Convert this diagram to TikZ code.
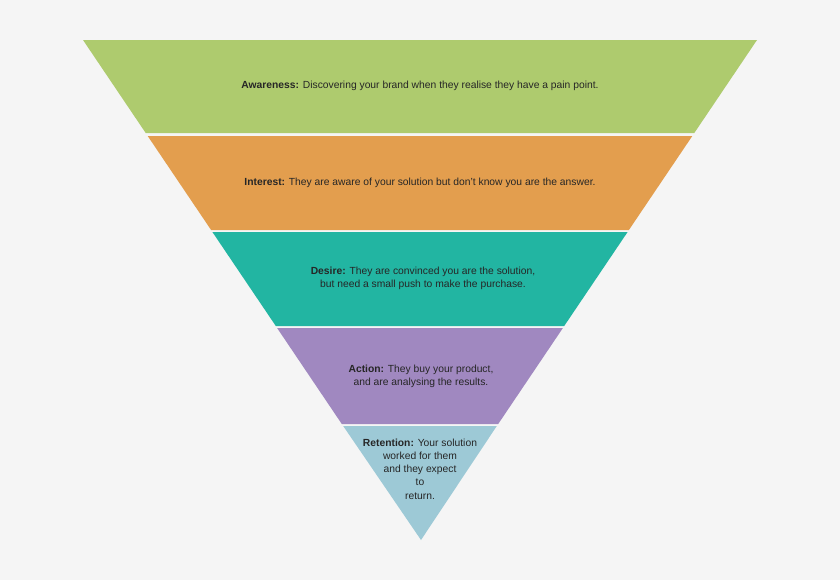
\documentclass[tikz,border=0pt]{standalone}
\usepackage{fontspec}
\setmainfont{Liberation Sans}
\usetikzlibrary{positioning}

\definecolor{awarecol}{HTML}{AECB6E}
\definecolor{interestcol}{HTML}{E39E4E}
\definecolor{desirecol}{HTML}{22B5A2}
\definecolor{actioncol}{HTML}{A088C0}
\definecolor{retaincol}{HTML}{9DC9D6}

\tikzset{
  layertext/.style={align=center,font=\fontsize{8.8}{11.3}\selectfont,text=black!85},
}

\begin{document}
\begin{tikzpicture}[x=0.03cm,y=-0.03cm]
\useasboundingbox[fill=black!4] (0,0) rectangle (840,580);
% funnel layers
\fill[awarecol]    (83,40)    -- (757,40)    -- (694.3,133) -- (145.7,133) -- cycle;
\fill[interestcol] (147.7,136) -- (692.3,136) -- (628.9,230) -- (211.1,230) -- cycle;
\fill[desirecol]   (212.4,232) -- (627.6,232) -- (564.2,326) -- (275.8,326) -- cycle;
\fill[actioncol]   (277.1,328) -- (562.9,328) -- (498.2,424) -- (341.8,424) -- cycle;
\fill[retaincol]   (343.2,426) -- (496.8,426) -- (421,540) -- cycle;
% labels
\node[layertext] (aware)    at (420,86)  {\textbf{Awareness:} Discovering your brand when they realise they have a pain point.};
\node[layertext] (interest) at (420,183) {\textbf{Interest:} They are aware of your solution but don't know you are the answer.};
\node[layertext] (desire)   at (423,278) {\textbf{Desire:} They are convinced you are the solution,\\but need a small push to make the purchase.};
\node[layertext] (action)   at (421,376) {\textbf{Action:} They buy your product,\\and are analysing the results.};
\node[layertext] (retain)   at (420,469) {\textbf{Retention:} Your solution\\worked for them\\and they expect\\to\\return.};
\end{tikzpicture}
\end{document}
